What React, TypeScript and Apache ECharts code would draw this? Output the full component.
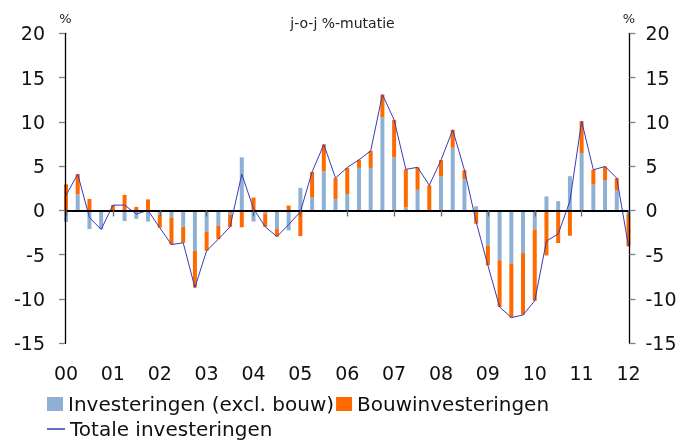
import React, { useEffect, useRef } from 'react';
import * as echarts from 'echarts';

const yearLabels = ['00', '01', '02', '03', '04', '05', '06', '07', '08', '09', '10', '11', '12'];

const quarters: string[] = [];
yearLabels.forEach((y, k) => {
  const n = k === yearLabels.length - 1 ? 1 : 4;
  for (let q = 1; q <= n; q++) quarters.push(`${y} K${q}`);
});

// 2000 K1 .. 2012 K1
const investExclBouw = [
  -1.3, 1.8, -2.1, -2.1,
  0, -1.2, -0.95, -1.25,
  -0.5, -0.8, -1.85, -4.55,
  -2.4, -1.75, -0.45, 6.0,
  -1.25, -0.35, -2.05, -2.25,
  2.55, 1.45, 4.4, 1.28,
  1.86, 4.8, 4.8, 10.53,
  6.0, 0.34, 2.33, 0,
  3.85, 7.08, 3.5, 0.47,
  -4.0, -5.62, -5.98, -4.81,
  -2.14, 1.58, 1.05, 3.87,
  6.47, 2.93, 3.38, 2.26,
  -0.45,
];

const bouwInvest = [
  2.95, 2.3, 1.3, 0,
  0.6, 1.75, 0.4, 1.25,
  -1.45, -3.05, -1.8, -4.15,
  -2.15, -1.5, -1.4, -1.9,
  1.45, -1.5, -0.9, 0.55,
  -2.9, 2.9, 3.05, 2.37,
  2.94, 0.92, 1.93, 2.55,
  4.23, 4.3, 2.54, 2.84,
  1.83, 2.02, 1.05, -1.5,
  -2.2, -5.28, -6.12, -6.95,
  -8.06, -5.08, -3.68, -2.86,
  3.61, 1.66, 1.58, 1.39,
  -3.6,
];

const totaal = [
  1.7, 4.1, -0.8, -2.15,
  0.6, 0.6, -0.4, 0,
  -1.95, -3.85, -3.65, -8.7,
  -4.55, -3.25, -1.85, 4.1,
  0.2, -1.85, -2.95, -1.6,
  -0.15, 4.35, 7.45, 3.65,
  4.85, 5.72, 6.73, 13.08,
  10.23, 4.64, 4.87, 2.84,
  5.68, 9.1, 4.55, -1.3,
  -6.2, -10.9, -12.1, -11.8,
  -10.2, -3.45, -2.65, 1.05,
  10.08, 4.59, 4.96, 3.65,
  -4.06,
];

const FONT = 'DejaVu Sans';
const BLUE = '#8EB0D5';
const ORANGE = '#FF6A00';
const LINE = '#3A3AB8';

export default function App() {
  const ref = useRef<HTMLDivElement>(null);

  useEffect(() => {
    if (!ref.current) return;
    const chart = echarts.init(ref.current, null, { renderer: 'svg' });
    const yAxisBase = {
      type: 'value',
      min: -15,
      max: 20,
      interval: 5,
      z: 5,
      axisLine: { show: true, lineStyle: { color: '#000', width: 1.3 } },
      axisTick: { show: true, length: 6, lineStyle: { color: '#808080', width: 1.3 } },
      splitLine: { show: false },
    };
    chart.setOption({
      animation: false,
      textStyle: { fontFamily: FONT },
      title: {
        text: 'j-o-j %-mutatie',
        left: 'center',
        top: 11,
        textStyle: { fontSize: 14, fontWeight: 'normal', color: '#222', fontFamily: FONT },
      },
      grid: { left: 66, right: 56.5, top: 33.3, bottom: 99.7, containLabel: false },
      xAxis: [
        {
          type: 'category',
          data: quarters,
          boundaryGap: false,
          position: 'bottom',
          z: 5,
          axisLine: { show: true, onZero: true, lineStyle: { color: '#000', width: 2 } },
          axisTick: { show: true, interval: 3, length: 6, lineStyle: { color: '#666', width: 1.3 } },
          axisLabel: { show: false },
          splitLine: { show: false },
        },
        {
          type: 'category',
          data: quarters,
          boundaryGap: false,
          position: 'bottom',
          axisLine: { show: false, onZero: false },
          axisTick: { show: false },
          splitLine: { show: false },
          axisLabel: {
            interval: 3,
            fontSize: 19,
            color: '#111',
            margin: 20,
            fontFamily: FONT,
            formatter: (v: string) => v.split(' ')[0],
          },
        },
      ],
      yAxis: [
        { ...yAxisBase, position: 'left', offset: 1, axisLabel: { fontSize: 19, color: '#111', margin: 20, fontFamily: FONT } },
        { ...yAxisBase, position: 'right', offset: 1, axisLabel: { fontSize: 19, color: '#111', margin: 16, fontFamily: FONT } },
      ],
      legend: [
        {
          data: ['Investeringen (excl. bouw)', 'Bouwinvesteringen'],
          left: 47,
          top: 394,
          padding: 0,
          itemWidth: 16,
          itemHeight: 14,
          itemGap: 2,
          icon: 'rect',
          selectedMode: false,
          textStyle: { fontSize: 20, lineHeight: 20, color: '#111', fontFamily: FONT },
        },
        {
          data: ['Totale investeringen'],
          left: 47,
          top: 419,
          padding: 0,
          itemWidth: 18,
          itemHeight: 1.5,
          icon: 'rect',
          selectedMode: false,
          textStyle: { fontSize: 20, lineHeight: 19, color: '#111', fontFamily: FONT },
        },
      ],
      graphic: [
        {
          type: 'text',
          x: 65.5,
          y: 18.5,
          style: { text: '%', fontSize: 13, fill: '#222', fontFamily: FONT, align: 'center', verticalAlign: 'middle', textAlign: 'center', textVerticalAlign: 'middle' },
        },
        {
          type: 'text',
          x: 629,
          y: 18.5,
          style: { text: '%', fontSize: 13, fill: '#222', fontFamily: FONT, align: 'center', verticalAlign: 'middle', textAlign: 'center', textVerticalAlign: 'middle' },
        },
      ],
      series: [
        {
          name: 'Investeringen (excl. bouw)',
          type: 'bar',
          stack: 'inv',
          xAxisIndex: 0,
          yAxisIndex: 0,
          barWidth: 4,
          clip: false,
          itemStyle: { color: BLUE },
          data: investExclBouw,
        },
        {
          name: 'Bouwinvesteringen',
          type: 'bar',
          stack: 'inv',
          xAxisIndex: 0,
          yAxisIndex: 0,
          barWidth: 4,
          clip: false,
          itemStyle: { color: ORANGE },
          data: bouwInvest,
        },
        {
          name: 'Totale investeringen',
          type: 'line',
          xAxisIndex: 0,
          yAxisIndex: 0,
          symbol: 'none',
          z: 4,
          itemStyle: { color: LINE },
          lineStyle: { color: LINE, width: 1 },
          data: totaal,
        },
      ],
    });
    return () => chart.dispose();
  }, []);

  return <div ref={ref} style={{ position: 'fixed', left: 0, top: 0, width: 685, height: 443 }} />;
}
